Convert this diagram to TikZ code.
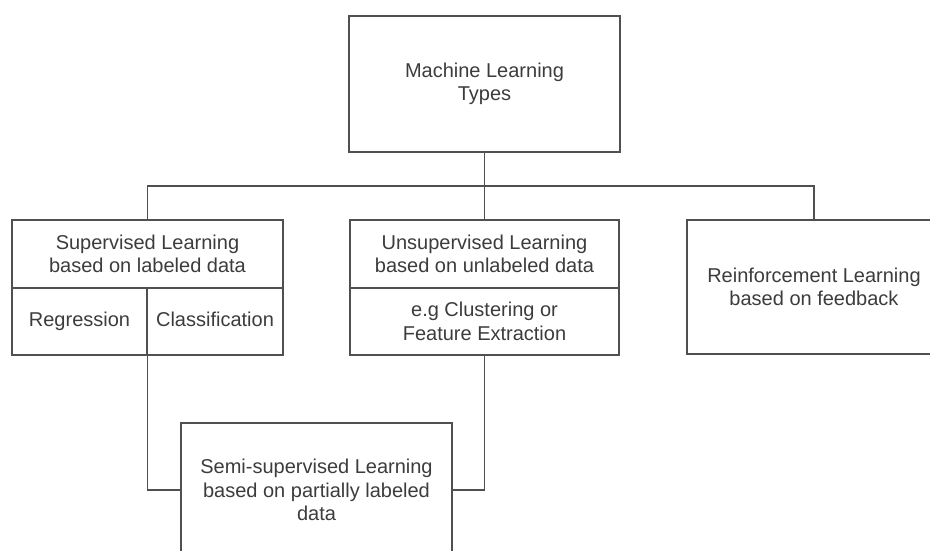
\documentclass[tikz,border=0pt]{standalone}
\usepackage{fontspec}
\setmainfont{Liberation Sans}
\definecolor{linegray}{HTML}{505050}
\definecolor{textgray}{HTML}{3C3C3C}
\tikzset{
  box/.style={draw=linegray,line width=1.4pt,inner sep=0pt,align=center,text=textgray,
    font=\fontsize{20}{23.5}\selectfont},
  link/.style={draw=linegray,line width=1.4pt}
}

\begin{document}
\begin{tikzpicture}[x=1pt,y=-1pt]
	\useasboundingbox (0,0) rectangle (930,550);
	\clip (0,0) rectangle (930,550);
	% top level
	\node[box,minimum width=271pt,minimum height=136pt] (ml) at (484.5,84) {Machine Learning\\Types};
	% supervised, with its two sub cells
	\node[box,minimum width=271pt,minimum height=68pt] (sup) at (147.5,254) {Supervised Learning\\based on labeled data};
	\node[box,minimum width=135pt,minimum height=67pt] (reg) at (79.5,321.5) {\strut Regression};
	\node[box,minimum width=136pt,minimum height=67pt] (cls) at (215,321.5) {\strut Classification};
	% unsupervised
	\node[box,minimum width=269pt,minimum height=68pt] (uns) at (484.5,254) {Unsupervised Learning\\based on unlabeled data};
	\node[box,minimum width=269pt,minimum height=67pt] (unsex) at (484.5,321.5) {e.g Clustering or\\Feature Extraction};
	% reinforcement
	\node[box,minimum width=254pt,minimum height=134pt] (rein) at (814,287) {Reinforcement Learning\\based on feedback};
	% semi-supervised
	\node[box,minimum width=271pt,minimum height=134pt] (semi) at (316.5,490) {Semi-supervised Learning\\based on partially labeled\\data};

	\coordinate (bus) at (484,186);
	\draw[link] (ml.south) -- (uns.north);
	\draw[link] (sup.north) |- (bus) -| (rein.north);
	\draw[link] (reg.south east) |- (semi.west);
	\draw[link] (unsex.south) |- (semi.east);
\end{tikzpicture}
\end{document}
